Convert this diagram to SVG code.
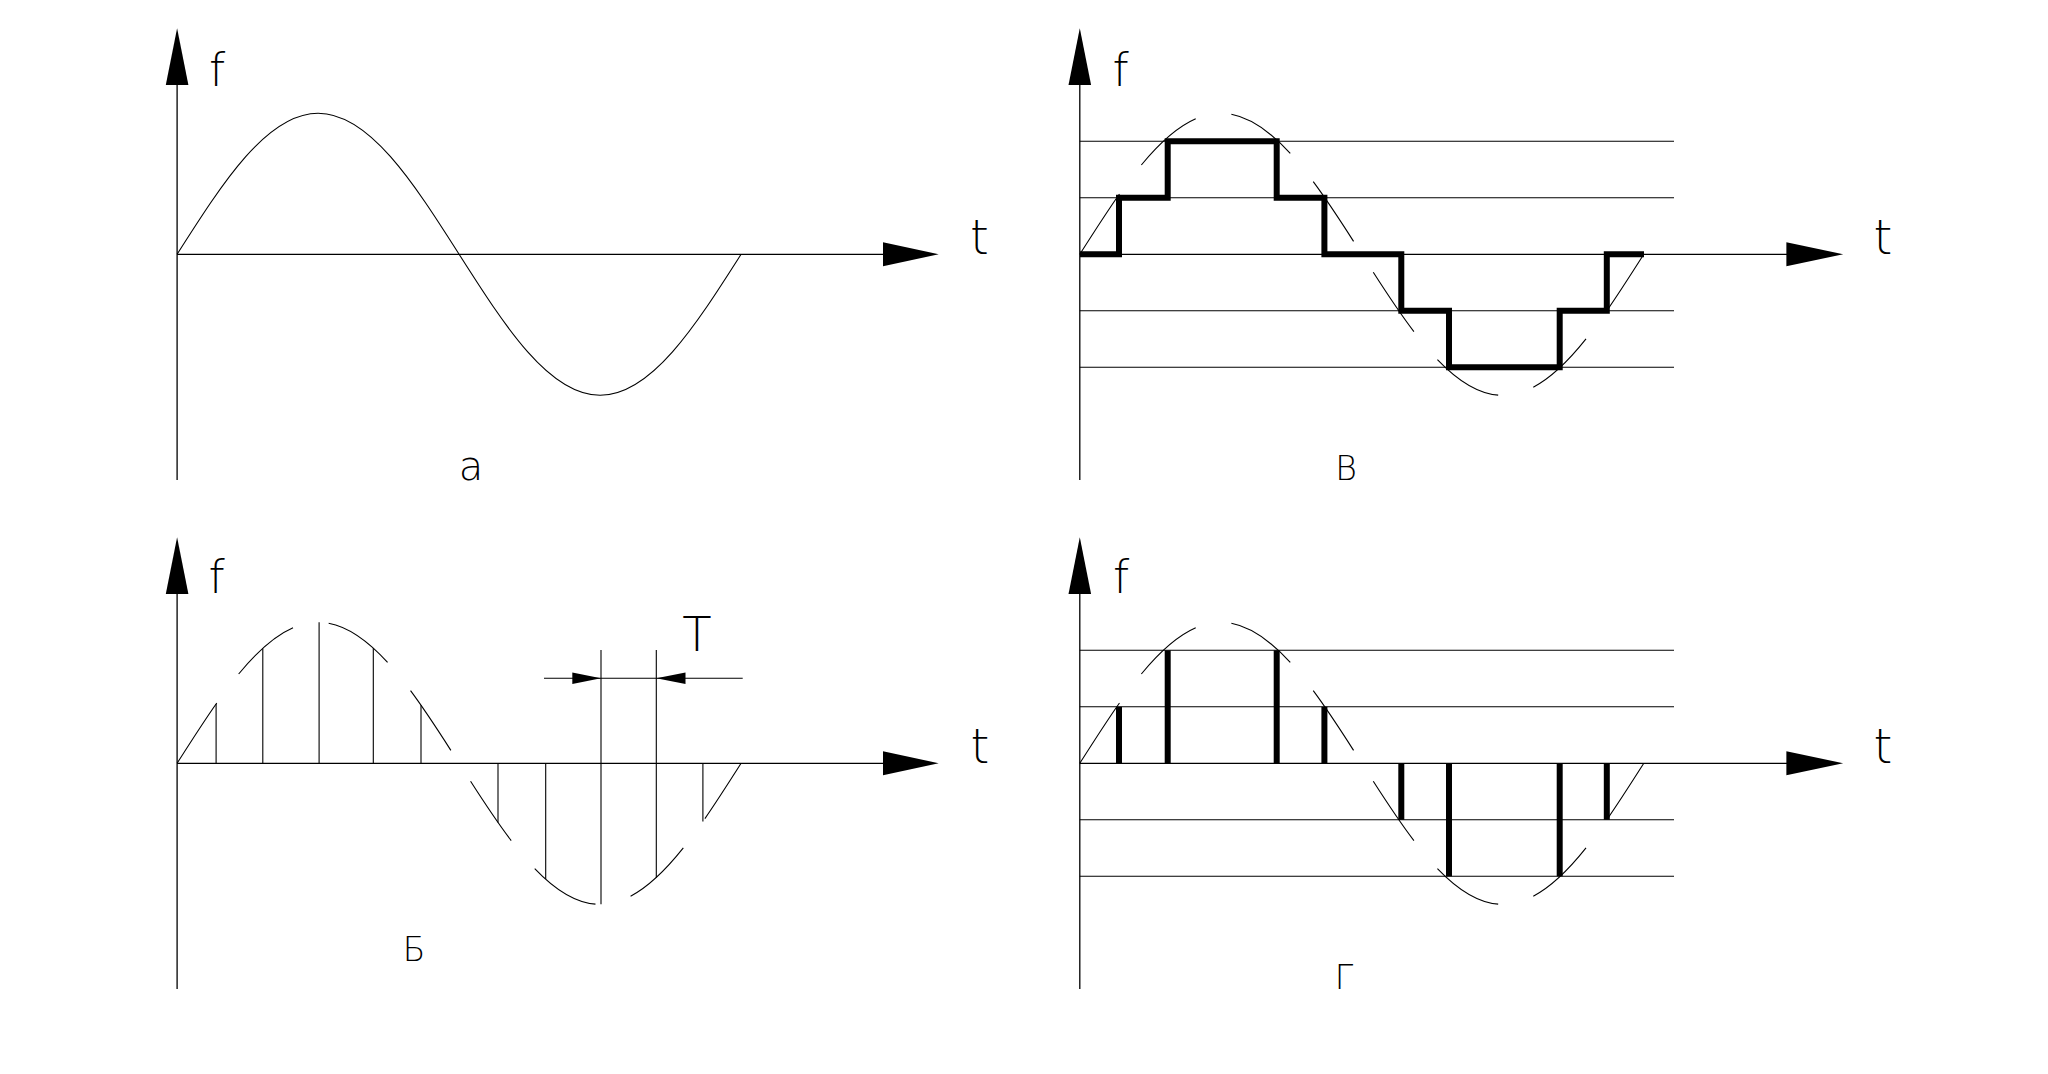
<svg xmlns="http://www.w3.org/2000/svg" width="2048" height="1074" viewBox="0 0 2048 1074">
<defs>
<style>
.ax{stroke:#000;stroke-width:1.3;fill:none}
.thin{stroke:#000;stroke-width:1.1;fill:none}
.dash{stroke:#000;stroke-width:1.1;fill:none;stroke-dasharray:72 36.5}
.thick{stroke:#000;stroke-width:6;fill:none;stroke-linejoin:miter;stroke-linecap:butt}
.ah{fill:#000;stroke:none}
text{font-family:"DejaVu Sans","Liberation Sans",sans-serif;font-weight:200;fill:#000;text-anchor:middle}
</style>
<path id="sine" pathLength="825.5" d="m0,0 c45.98,-72.23 89.97,-141 141,-141 c51.03,0 95.02,68.77 141,141 c45.98,72.23 89.97,141 141,141 c51.03,0 95.02,-68.77 141,-141"/>
</defs>
<rect width="2048" height="1074" fill="#fff"/>

<g id="panel-a">
<line class="ax" x1="177.1" y1="80" x2="177.1" y2="480"/>
<polygon class="ah" points="177.1,28.3 165.8,85 188.4,85"/>
<line class="ax" x1="177.1" y1="254.3" x2="890" y2="254.3"/>
<polygon class="ah" points="938.7,254.3 883,242.3 883,266.3"/>
<use href="#sine" x="177.1" y="254.3" class="thin"/>
<text x="217" y="85.7" font-size="46">f</text>
<text x="979.5" y="254.3" font-size="48">t</text>
<text x="471" y="480" font-size="40">а</text>
</g>

<g id="panel-b">
<line class="ax" x1="177.1" y1="590" x2="177.1" y2="989"/>
<polygon class="ah" points="177.1,537.3 165.8,594 188.4,594"/>
<line class="ax" x1="177.1" y1="763.3" x2="890" y2="763.3"/>
<polygon class="ah" points="938.7,763.3 883,751.3 883,775.3"/>
<use href="#sine" x="177.1" y="763.3" class="dash"/>
<g class="thin">
<line x1="216.1" y1="763.3" x2="216.1" y2="703.9"/>
<line x1="262.8" y1="763.3" x2="262.8" y2="648.2"/>
<line x1="319.1" y1="763.3" x2="319.1" y2="622.3"/>
<line x1="373.3" y1="763.3" x2="373.3" y2="648.1"/>
<line x1="421" y1="763.3" x2="421" y2="705.3"/>
<line x1="498" y1="763.3" x2="498" y2="822.5"/>
<line x1="545.7" y1="763.3" x2="545.7" y2="879.1"/>
<line x1="601" y1="650" x2="601" y2="904.3"/>
<line x1="656.3" y1="650" x2="656.3" y2="877.7"/>
<line x1="702.9" y1="763.3" x2="702.9" y2="821.4"/>
<line x1="544" y1="678.3" x2="742.7" y2="678.3"/>
</g>
<polygon class="ah" points="601,678.3 572.3,672.5 572.3,684.1"/>
<polygon class="ah" points="656.3,678.3 685.5,672.5 685.5,684.1"/>
<text x="697" y="650.7" font-size="48">T</text>
<text x="980" y="763.3" font-size="48">t</text>
<text x="216.5" y="593.3" font-size="46">f</text>
<text x="414" y="961" font-size="33">Б</text>
</g>

<g id="panel-v">
<line class="ax" x1="1079.8" y1="80" x2="1079.8" y2="480"/>
<polygon class="ah" points="1079.8,28.3 1068.5,85 1091.1,85"/>
<line class="ax" x1="1079.8" y1="254.3" x2="1790" y2="254.3"/>
<polygon class="ah" points="1843.2,254.3 1786.4,242.3 1786.4,266.3"/>
<g class="thin">
<line x1="1079.8" y1="141.3" x2="1674" y2="141.3"/>
<line x1="1079.8" y1="197.8" x2="1674" y2="197.8"/>
<line x1="1079.8" y1="310.8" x2="1674" y2="310.8"/>
<line x1="1079.8" y1="367.3" x2="1674" y2="367.3"/>
</g>
<use href="#sine" x="1079.8" y="254.3" class="dash"/>
<path class="thick" d="M1080,254.3 H1119 V197.8 H1167.7 V141.3 H1276.7 V197.8 H1324.4 V254.3 H1401.3 V310.8 H1449 V367.3 H1559.7 V310.8 H1606.8 V254.3 H1644"/>
<text x="1120.5" y="85.7" font-size="46">f</text>
<text x="1883" y="254.3" font-size="48">t</text>
<text x="1346" y="480" font-size="33">В</text>
</g>

<g id="panel-g">
<line class="ax" x1="1079.8" y1="590" x2="1079.8" y2="989"/>
<polygon class="ah" points="1079.8,537.3 1068.5,594 1091.1,594"/>
<line class="ax" x1="1079.8" y1="763.3" x2="1790" y2="763.3"/>
<polygon class="ah" points="1843.2,763.3 1786.4,751.3 1786.4,775.3"/>
<g class="thin">
<line x1="1079.8" y1="650.3" x2="1674" y2="650.3"/>
<line x1="1079.8" y1="706.8" x2="1674" y2="706.8"/>
<line x1="1079.8" y1="819.8" x2="1674" y2="819.8"/>
<line x1="1079.8" y1="876.3" x2="1674" y2="876.3"/>
</g>
<use href="#sine" x="1079.8" y="763.3" class="dash"/>
<g class="thick">
<line x1="1119" y1="763.3" x2="1119" y2="706.8"/>
<line x1="1167.7" y1="763.3" x2="1167.7" y2="650.3"/>
<line x1="1276.7" y1="763.3" x2="1276.7" y2="650.3"/>
<line x1="1324.4" y1="763.3" x2="1324.4" y2="706.8"/>
<line x1="1401.3" y1="763.3" x2="1401.3" y2="819.8"/>
<line x1="1449" y1="763.3" x2="1449" y2="876.3"/>
<line x1="1559.7" y1="763.3" x2="1559.7" y2="876.3"/>
<line x1="1606.8" y1="763.3" x2="1606.8" y2="819.8"/>
</g>
<text x="1121" y="593.3" font-size="46">f</text>
<text x="1883" y="763.3" font-size="48">t</text>
<text x="1344" y="989.3" font-size="33">Г</text>
</g>
</svg>
